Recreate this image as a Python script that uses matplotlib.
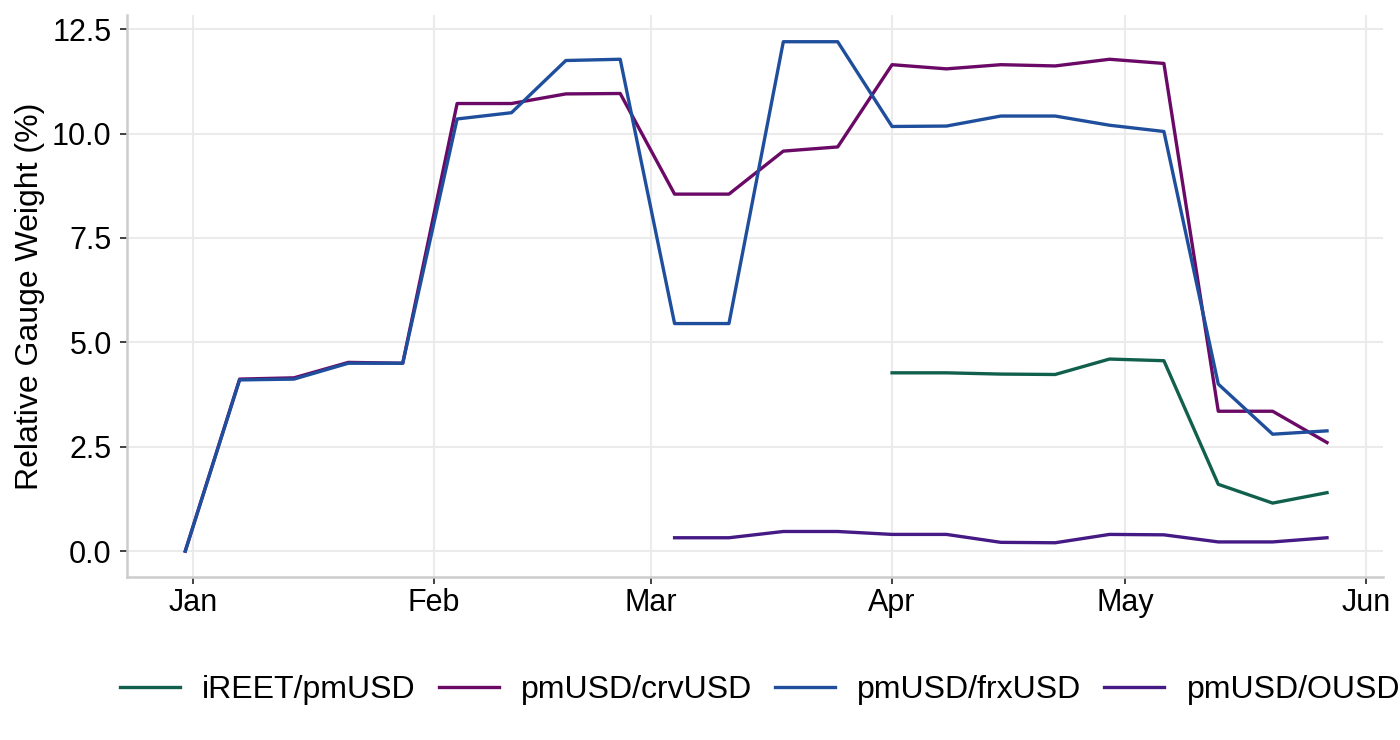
import numpy as np
import pandas as pd
import matplotlib
matplotlib.use("Agg")
import matplotlib.pyplot as plt
import matplotlib.dates as mdates

plt.rcParams['font.family'] = ['Liberation Sans', 'DejaVu Sans']

dates = pd.date_range('2024-12-31', periods=22, freq='7D')

crvUSD = [0.0, 4.12, 4.15, 4.52, 4.50, 10.72, 10.72, 10.95, 10.96, 8.55, 8.55,
          9.58, 9.68, 11.65, 11.55, 11.65, 11.62, 11.78, 11.68, 3.35, 3.35, 2.60]
frxUSD = [0.0, 4.10, 4.12, 4.50, 4.50, 10.35, 10.50, 11.75, 11.78, 5.45, 5.45,
          12.20, 12.20, 10.17, 10.18, 10.42, 10.42, 10.20, 10.05, 4.00, 2.80, 2.88]
# iREET starts Apr 1, OUSD starts Mar 4
ireet = [4.27, 4.27, 4.24, 4.23, 4.60, 4.56, 1.60, 1.15, 1.40]
ousd = [0.32, 0.32, 0.47, 0.47, 0.40, 0.40, 0.21, 0.20, 0.40, 0.39, 0.22, 0.22, 0.32]

labels = ['iREET/pmUSD', 'pmUSD/crvUSD', 'pmUSD/frxUSD', 'pmUSD/OUSD']
colors = ['#11604d', '#6b0a66', '#1f4f9c', '#461a85']

fig = plt.figure(figsize=(14, 7.4), dpi=100)
ax = fig.add_axes([127/1400, 1 - 577/740, (1383-127)/1400, (577-15)/740])

lw = 2.4
ax.plot(dates[13:], ireet, color=colors[0], lw=lw, label=labels[0])
ax.plot(dates, crvUSD, color=colors[1], lw=lw, label=labels[1])
ax.plot(dates, frxUSD, color=colors[2], lw=lw, label=labels[2])
ax.plot(dates[9:], ousd, color=colors[3], lw=lw, label=labels[3])

ax.set_ylim(-0.62, 12.84)
ax.set_xlim(pd.Timestamp('2024-12-23 12:00'), pd.Timestamp('2025-06-03 05:00'))
ax.set_yticks([0, 2.5, 5, 7.5, 10, 12.5])
ax.set_yticklabels(['0.0', '2.5', '5.0', '7.5', '10.0', '12.5'])
ax.xaxis.set_major_locator(mdates.MonthLocator())
ax.xaxis.set_major_formatter(mdates.DateFormatter('%b'))

ax.grid(True, color='#ebebeb', lw=1.5)
ax.set_axisbelow(True)
for s in ['top', 'right']:
    ax.spines[s].set_visible(False)
for s in ['left', 'bottom']:
    ax.spines[s].set_color('#cccccc')
    ax.spines[s].set_linewidth(1.8)
ax.tick_params(colors='#333333', labelcolor='black', labelsize=22, width=1.3, length=5, pad=3)
ax.tick_params(axis='y', pad=6)
ax.set_ylabel('Relative Gauge Weight (%)', fontsize=23, labelpad=5)

fig.legend(loc='center', bbox_to_anchor=(760/1400, 1 - 690/740), ncol=4,
           frameon=False, fontsize=23, handlelength=1.88, columnspacing=0.72,
           handletextpad=0.69)

fig.savefig('out.png', dpi=100)
